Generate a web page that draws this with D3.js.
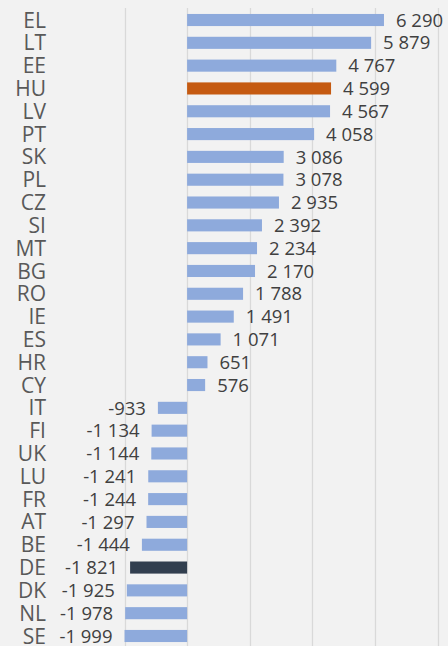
<!DOCTYPE html>
<head>
  <meta charset="utf-8">
  <script src="https://d3js.org/d3.v7.min.js"></script>
  <style>
    body { margin:0; background:#f2f2f2; }
    svg { display:block; }
    .cat { font-family:"Open Sans", sans-serif; font-size:21px; fill:#595959; }
    .val { font-family:"Open Sans", sans-serif; font-size:18.5px; fill:#404040; }
  </style>
</head>
<body>
<script>

/* Data */
/* ==== */

var countries = ["EL","LT","EE","HU","LV","PT","SK","PL","CZ","SI","MT","BG","RO","IE",
                 "ES","HR","CY","IT","FI","UK","LU","FR","AT","BE","DE","DK","NL","SE"];
var values = [6290,5879,4767,4599,4567,4058,3086,3078,2935,2392,2234,2170,1788,1491,
              1071,651,576,-933,-1134,-1144,-1241,-1244,-1297,-1444,-1821,-1925,-1978,-1999];
var highlight = {"HU": "#c55a11", "DE": "#323f4f"};
var gridTicks = [-2000, 0, 2000, 4000, 6000, 8000];


/* Set up */
/* ====== */

var width = 448,
    height = 646;

var svg = d3.select('body')
  .append('svg')
    .attr('width', width)
    .attr('height', height);

svg.append('rect')
    .attr('width', width)
    .attr('height', height)
    .attr('fill', '#f2f2f2');

var x = d3.scaleLinear()
    .domain([-2000, 8000])
    .range([124.5, 437.5]);

var y = d3.scaleBand()
    .domain(countries)
    .range([8.6, 647.4])
    .paddingInner(0.47)
    .paddingOuter(0.235);

var fmt = d3.formatLocale({decimal: ",", thousands: "\u00a0", grouping: [3], currency: ["", ""], minus: "-"}).format(",d");

var data = countries.map(function(c, i) { return {name: c, value: values[i]}; });


// gridlines

svg.selectAll('.grid')
    .data(gridTicks)
    .enter()
  .append('line')
    .attr('x1', function(d) { return Math.round(x(d)) + 0.5; })
    .attr('x2', function(d) { return Math.round(x(d)) + 0.5; })
    .attr('y1', 8)
    .attr('y2', height)
    .attr('stroke', '#d9d9d9')
    .attr('stroke-width', 1.3);


// bars

svg.selectAll('.bar')
    .data(data)
    .enter()
  .append('rect')
    .attr('x', function(d) { return x(Math.min(0, d.value)); })
    .attr('y', function(d) { return y(d.name); })
    .attr('width', function(d) { return Math.abs(x(d.value) - x(0)); })
    .attr('height', y.bandwidth())
    .attr('fill', function(d) { return highlight[d.name] || '#8eaadc'; });


// category labels

svg.selectAll('.cat')
    .data(data)
    .enter()
  .append('text')
    .attr('class', 'cat')
    .attr('x', 46)
    .attr('y', function(d) { return y(d.name) + y.bandwidth() / 2; })
    .attr('dy', '0.36em')
    .attr('text-anchor', 'end')
    .text(function(d) { return d.name; });


// value labels

svg.selectAll('.val')
    .data(data)
    .enter()
  .append('text')
    .attr('class', 'val')
    .attr('x', function(d) { return d.value >= 0 ? x(d.value) + 12 : x(d.value) - 12; })
    .attr('y', function(d) { return y(d.name) + y.bandwidth() / 2; })
    .attr('dy', '0.36em')
    .attr('text-anchor', function(d) { return d.value >= 0 ? 'start' : 'end'; })
    .text(function(d) { return fmt(d.value); });

</script>
</body>
